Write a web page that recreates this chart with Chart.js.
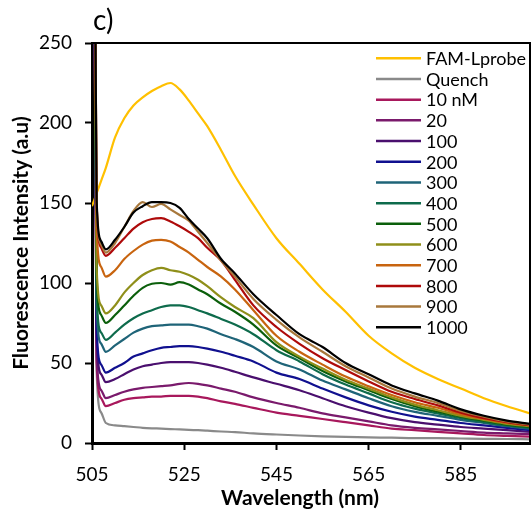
<!DOCTYPE html>
<html><head><meta charset="utf-8">
<script src="https://cdn.jsdelivr.net/npm/chart.js@4.4.1/dist/chart.umd.min.js"></script>
<style>html,body{margin:0;padding:0;background:#fff;}#wrap{width:532px;height:514px;}</style>
</head><body><div id="wrap"><canvas id="c" width="532" height="514"></canvas></div>
<script>
const wavelengths = [505, 506, 507, 508, 510, 512, 514, 516, 518, 520, 522, 524, 526, 528, 530, 533, 536, 540, 545, 550, 555, 560, 565, 570, 575, 580, 585, 590, 595, 600];
const famLprobe = [148, 156, 164, 172, 191, 203, 211, 216, 220, 223, 225, 221, 214, 206, 198, 183, 167, 149, 128, 112, 96, 82, 67, 56, 47, 40, 34, 28, 23, 18.5];
const quench = [600, 45, 19, 12.5, 11, 10.5, 10, 9.5, 9.2, 9, 8.7, 8.5, 8.2, 8, 7.7, 7.2, 6.8, 6, 5.3, 4.7, 4.2, 3.8, 3.5, 3.3, 3, 3, 2.8, 2.6, 2.5, 2.3];
const s10nM = [600, 50, 28, 23, 25, 27, 28, 28.5, 29, 29, 29.5, 29.5, 29.5, 29, 28, 26, 24.5, 22, 19, 17, 15, 13, 11, 9, 8, 7, 6, 5, 4.5, 4];
const s20 = [600, 55, 33, 28, 30, 32, 33.5, 34.5, 35, 35.5, 36, 37, 37.5, 37, 36, 34, 32, 28.5, 25, 22, 18.5, 16, 13.5, 11, 9.5, 8.5, 7.5, 6.5, 6, 5.5];
const s100 = [600, 65, 43, 38, 40, 43, 46, 48, 49, 50, 50.5, 50.5, 50.5, 50, 49, 47, 44.5, 41, 37, 33, 28, 23, 19, 15.5, 13, 11.5, 10, 9, 8, 7];
const s200 = [600, 72, 49, 44, 47, 50, 54, 56, 58, 59.5, 60, 60.5, 60.5, 60, 59, 57, 54.5, 51, 44, 40, 34, 28.5, 23.5, 19.5, 16.5, 14.5, 12.5, 11, 9.5, 8];
const s300 = [600, 85, 62, 57, 61, 65, 69, 71.5, 73, 73.5, 74, 74, 74, 73, 71.5, 68, 65, 60, 51, 46, 39, 33.5, 28, 23, 19.5, 17, 14.5, 12.5, 10.5, 9];
const s400 = [600, 92, 69, 64.5, 69, 74, 78, 81, 83, 85, 86, 86, 85, 83, 81, 77.5, 74, 68, 58, 51, 43, 36.5, 31, 25.5, 21.5, 18.5, 15.5, 13, 11, 9.5];
const s500 = [600, 105, 80, 75, 80, 86, 92, 97, 99.5, 100, 99, 100.5, 99, 96, 93, 87, 82, 74, 61, 53, 45, 38.5, 33, 27.5, 23, 19.5, 16.5, 14, 11.5, 10];
const s600 = [600, 110, 86, 81, 86, 94, 100, 105, 108, 109.5, 108, 107, 105, 102, 98, 91, 85, 78, 63, 54, 46.5, 39.5, 34, 28.5, 24, 20.5, 17, 14.5, 12, 10.5];
const s700 = [600, 135, 110, 104, 108, 115, 120, 124, 126.5, 127, 126, 122.5, 119, 114.5, 110, 104, 96, 83, 67, 57, 49, 41.5, 35.5, 30, 25.5, 22, 18, 15, 12.5, 11];
const s800 = [600, 150, 122, 117, 122, 128, 134, 138, 140, 140.5, 138.5, 135.5, 132, 128, 122, 114, 102, 86, 72.5, 62, 53, 45.6, 38.5, 32, 27.5, 23.5, 19, 15.5, 13, 11];
const s900 = [600, 150, 124, 119, 125, 135, 145, 150.5, 147.5, 149.5, 146, 142.5, 139, 132, 125, 114, 104, 90, 77, 66, 57, 48, 41, 34, 29, 25, 20, 16.5, 13.5, 11.5];
const s1000 = [600, 152, 126, 121, 127, 135, 144, 148, 150.5, 150.5, 150, 147, 140, 134, 128, 115, 106, 93, 80, 68, 60, 50, 43, 36, 31, 26.5, 21, 17, 14, 12];

const seriesLabels = ['FAM-Lprobe', 'Quench', '10 nM', '20', '100', '200', '300', '400', '500', '600', '700', '800', '900', '1000'];
const seriesValues = [famLprobe, quench, s10nM, s20, s100, s200, s300, s400, s500, s600, s700, s800, s900, s1000];
const seriesColors = ['#FFC000', '#8A8A8A', '#A8185C', '#7A1A6C', '#4A0F6E', '#10108F', '#1F6478', '#0E6B4C', '#0B5F0B', '#8F8F1A', '#C8640F', '#AE0A0A', '#A8783C', '#000000'];
const xTickValues = [505, 525, 545, 565, 585];
const yTickValues = [0, 50, 100, 150, 200, 250];
const chartTitle = 'c)';
const xTitle = 'Wavelength (nm)';
const yTitle = 'Fluorescence Intensity (a.u)';

const FONT = 'Lato';

const datasets = seriesValues.map((vals, i) => ({
  label: seriesLabels[i],
  data: wavelengths.map((w, j) => ({x: w, y: vals[j]})),
  borderColor: seriesColors[i],
  backgroundColor: seriesColors[i],
  borderWidth: 2.2,
  pointRadius: 0,
  cubicInterpolationMode: 'monotone',
  fill: false,
  order: seriesValues.length - i
}));

const extras = {
  id: 'extras',
  afterDatasetsDraw(chart) {
    const {ctx, chartArea: a} = chart;
    ctx.save();
    ctx.strokeStyle = '#000';
    ctx.lineWidth = 2;
    ctx.beginPath();
    ctx.moveTo(a.left, a.top);
    ctx.lineTo(a.right, a.top);
    ctx.lineTo(a.right, a.bottom);
    ctx.stroke();
    ctx.font = '18px ' + FONT;
    ctx.textBaseline = 'middle';
    ctx.textAlign = 'left';
    chart.data.datasets.forEach((ds, i) => {
      const y = 58.3 + i * 20.69;
      ctx.strokeStyle = ds.borderColor;
      ctx.lineWidth = 2.5;
      ctx.beginPath();
      ctx.moveTo(376, y);
      ctx.lineTo(421, y);
      ctx.stroke();
      ctx.fillStyle = '#000';
      ctx.fillText(ds.label, 426, y + 1);
    });
    ctx.font = '28px ' + FONT;
    ctx.textBaseline = 'alphabetic';
    ctx.fillText(chartTitle, 93, 30);
    ctx.font = 'bold 21px ' + FONT;
    ctx.textAlign = 'center';
    ctx.textBaseline = 'middle';
    ctx.fillText(xTitle, 300, 498);
    ctx.restore();
  }
};

new Chart(document.getElementById('c'), {
  type: 'line',
  data: {datasets},
  options: {
    responsive: false,
    animation: false,
    devicePixelRatio: 1,
    layout: {padding: {top: 43, right: 2, left: 0, bottom: 0}},
    plugins: {legend: {display: false}, tooltip: {enabled: false}, title: {display: false}},
    scales: {
      x: {
        type: 'linear',
        min: 505, max: 600,
        afterFit(s) { s.height = 71; },
        afterBuildTicks(s) { s.ticks = xTickValues.map(v => ({value: v})); },
        grid: {drawOnChartArea: false, drawTicks: true, tickLength: 7, tickWidth: 2, tickColor: '#000'},
        border: {display: true, color: '#000', width: 3},
        ticks: {color: '#000', font: {family: FONT, size: 19}, padding: 13, maxRotation: 0, autoSkip: false}
      },
      y: {
        type: 'linear',
        min: 0, max: 250,
        afterFit(s) { s.width = 92; },
        afterBuildTicks(s) { s.ticks = yTickValues.map(v => ({value: v})); },
        grid: {drawOnChartArea: false, drawTicks: true, tickLength: 7, tickWidth: 2, tickColor: '#000'},
        border: {display: true, color: '#000', width: 3},
        ticks: {color: '#000', font: {family: FONT, size: 19}, padding: 13},
        title: {display: true, text: yTitle, color: '#000', font: {family: FONT, size: 21, weight: 'bold'}, padding: {top: 9, bottom: 0}}
      }
    }
  },
  plugins: [extras]
});
</script></body></html>
